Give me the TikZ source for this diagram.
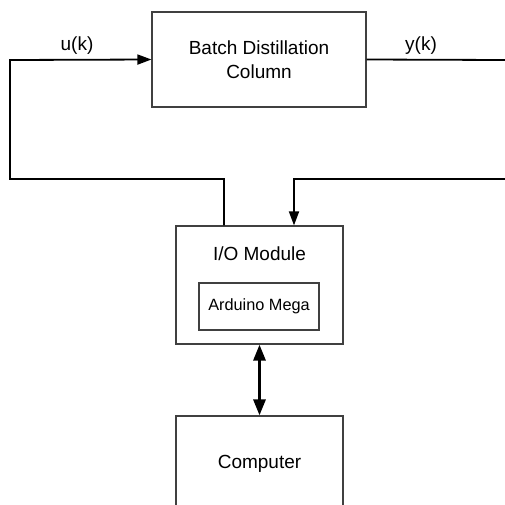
\documentclass[tikz,border=0pt]{standalone}
\usepackage{fontspec}
\setmainfont{Liberation Sans}
\usetikzlibrary{arrows.meta,calc}
\begin{document}
\begin{tikzpicture}[x=1pt,y=-1pt,
  blockbox/.style={draw=black!75, line width=1.2pt, inner sep=0pt, align=center,
    font=\fontsize{19}{24}\selectfont},
  conn/.style={draw=black, line width=1.8pt},
  lbl/.style={font=\fontsize{19}{24}\selectfont, inner sep=0pt}]
\useasboundingbox (0,0) rectangle (505,504);
\node[blockbox, minimum width=214pt, minimum height=95pt] (batch) at (259,59.5) {Batch Distillation\\Column};
\node[blockbox, minimum width=167pt, minimum height=118pt] (io) at (259.5,285) {};
\node[lbl] (iotext) at (259.5,254) {I/O Module};
\node[blockbox, minimum width=120pt, minimum height=47pt, font=\fontsize{16.3}{20}\selectfont] (ard) at (259,306.5) {Arduino Mega};
\node[blockbox, minimum width=167pt, minimum height=95pt] (comp) at (259.5,463.5) {Computer};
\node[lbl] (ulbl) at (77,46) {u(k)};
\node[lbl] (ylbl) at (421,46) {y(k)};
\coordinate (uleft) at (10,60);
\coordinate (ubot) at (10,179);
\coordinate (ucorner) at (224,179);
\coordinate (yend) at (505,60);
\coordinate (rstart) at (505,179);
\coordinate (rcorner) at (294,179);
\draw[conn, -{Triangle[length=14pt,width=10pt]}] (io.north -| ucorner) -- (ucorner) -- (ubot) -- (uleft) -- (batch.west);
\draw[conn] (batch.east) -- (yend);
\draw[conn, -{Triangle[length=14pt,width=10pt]}] (rstart) -- (rcorner) -- (io.north -| rcorner);
\draw[draw=black, line width=3pt, {Triangle[length=16pt,width=12pt]}-{Triangle[length=16pt,width=12pt]}] (io.south) -- (comp.north);
\end{tikzpicture}
\end{document}
